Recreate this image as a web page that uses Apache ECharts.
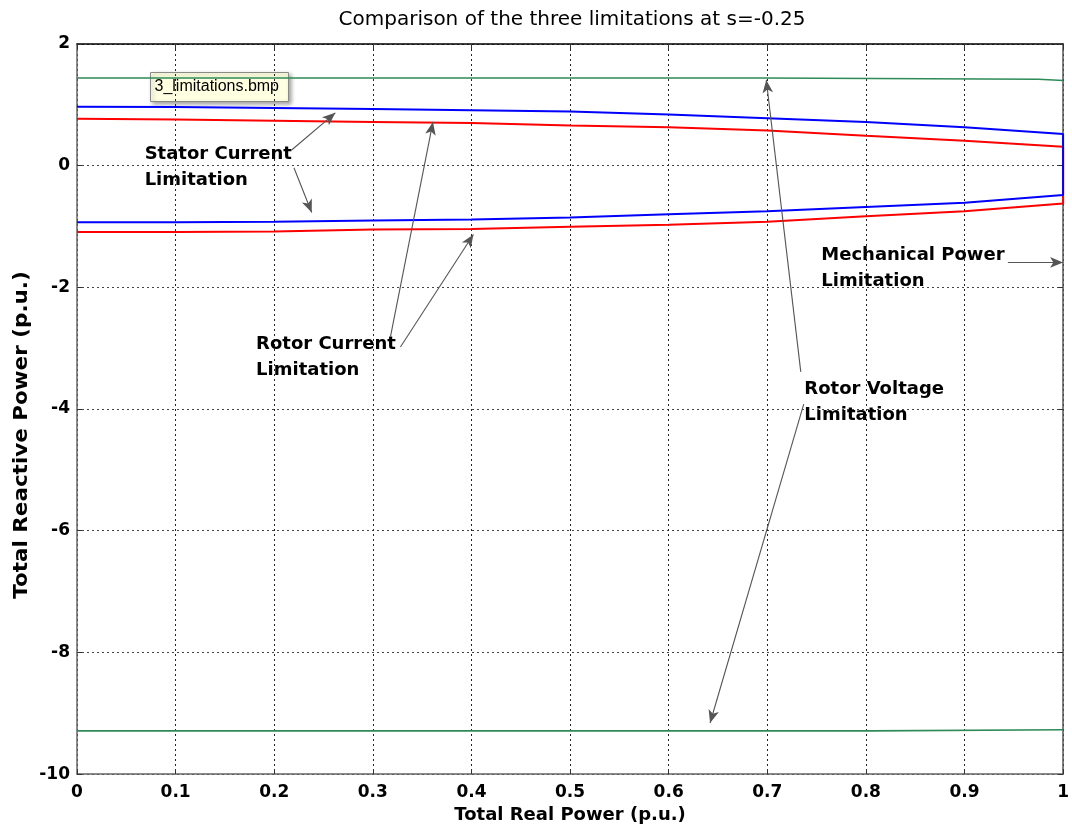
<!DOCTYPE html>
<html><head><meta charset="utf-8">
<script src="https://cdn.jsdelivr.net/npm/echarts@6/dist/echarts.min.js"></script>
<style>html,body{margin:0;padding:0;background:#fff;overflow:hidden}#c{width:1072px;height:829px}</style>
</head><body><div id="c"></div>
<script>
// ---- data ----
const P = [0, 0.1, 0.2, 0.3, 0.4, 0.5, 0.6, 0.7, 0.8, 0.9, 1.0];
const statorUpper = [0.967, 0.965, 0.95, 0.93, 0.91, 0.89, 0.84, 0.78, 0.72, 0.63, 0.52];
const statorLower = [-0.93, -0.93, -0.92, -0.90, -0.885, -0.85, -0.80, -0.75, -0.68, -0.61, -0.48];
const rotorUpper  = [0.77, 0.76, 0.74, 0.72, 0.70, 0.66, 0.63, 0.58, 0.49, 0.41, 0.31];
const rotorLower  = [-1.09, -1.09, -1.08, -1.05, -1.04, -1.005, -0.97, -0.92, -0.83, -0.75, -0.62];
const voltUpperP = [0, 0.696, 0.697, 0.975, 0.976, 1.0];
const voltUpperQ = [1.44, 1.44, 1.42, 1.42, 1.40, 1.40];
const voltLowerP = [0, 0.805, 0.806, 1.0];
const voltLowerQ = [-9.29, -9.29, -9.27, -9.27];
const xTickLabels = ['0','0.1','0.2','0.3','0.4','0.5','0.6','0.7','0.8','0.9','1'];
const yTickLabels = ['-10','-8','-6','-4','-2','0','2'];
const annoText = ['Stator Current\nLimitation', 'Rotor Current\nLimitation', 'Mechanical Power\nLimitation', 'Rotor Voltage\nLimitation'];
const annoPos  = [[0.0686, -0.025], [0.1816, -3.156], [0.7548, -1.68], [0.7376, -3.893]];
const arrowFrom = [[0.218, 0.262], [0.220, -0.033], [0.318, -2.80], [0.328, -2.98], [0.944, -1.59], [0.734, -3.39], [0.737, -3.92]];
const arrowTo   = [[0.262, 0.869], [0.238, -0.77], [0.361, 0.72], [0.402, -1.13], [1.0, -1.59], [0.699, 1.41], [0.642, -9.16]];

// ---- build ----
function closed(up, low) {
  const d = P.map((p, i) => [p, up[i]]);
  for (let i = P.length - 1; i >= 0; i--) d.push([P[i], low[i]]);
  return d;
}
const FONT = '"Liberation Sans", Arial, sans-serif';
const WIDE = '"DejaVu Sans", "Liberation Sans", sans-serif';
const chart = echarts.init(document.getElementById('c'));
chart.setOption({
  animation: false,
  backgroundColor: '#fff',
  title: {
    text: 'Comparison of the three limitations at s=-0.25',
    left: 567, top: 5, textAlign: 'center',
    textStyle: {fontFamily: WIDE, fontSize: 20, fontWeight: 'normal', color: '#000'}
  },
  grid: {left: 77, right: 4, top: 44, bottom: 53},
  xAxis: [{
    type: 'value', min: 0, max: 1, interval: 0.1,
    name: 'Total Real Power (p.u.)', nameLocation: 'middle', nameGap: 29,
    nameTextStyle: {fontFamily: WIDE, fontSize: 18, fontWeight: 'bold', color: '#000'},
    axisLine: {show: true, onZero: false, lineStyle: {color: '#666', width: 1.5}},
    axisTick: {show: true, inside: true, length: 5, lineStyle: {color: '#333'}},
    axisLabel: {margin: 10, fontFamily: WIDE, fontSize: 17, fontWeight: 'bold', color: '#000',
      formatter: v => xTickLabels[Math.round(v * 10)]},
    splitLine: {show: true, lineStyle: {color: '#222', type: [2, 3], width: 1}}
  }, {
    type: 'value', min: 0, max: 1, interval: 0.1, position: 'top',
    axisLine: {show: true, onZero: false, lineStyle: {color: '#000', width: 1.5}},
    axisTick: {show: true, inside: true, length: 5, lineStyle: {color: '#333'}},
    axisLabel: {show: false}, splitLine: {show: false}
  }],
  yAxis: [{
    type: 'value', min: -10, max: 2, interval: 2,
    axisLine: {show: true, onZero: false, lineStyle: {color: '#666', width: 1.5}},
    axisTick: {show: true, inside: true, length: 5, lineStyle: {color: '#333'}},
    axisLabel: {margin: 7, fontFamily: WIDE, fontSize: 17, fontWeight: 'bold', color: '#000',
      formatter: v => yTickLabels[Math.round((v + 10) / 2)]},
    splitLine: {show: true, lineStyle: {color: '#444', type: [2, 3], width: 1}}
  }, {
    type: 'value', min: -10, max: 2, interval: 2, position: 'right',
    axisLine: {show: true, onZero: false, lineStyle: {color: '#555', width: 1.5}},
    axisTick: {show: true, inside: true, length: 5, lineStyle: {color: '#333'}},
    axisLabel: {show: false}, splitLine: {show: false}
  }],
  series: [
    {type: 'line', name: 'Rotor Voltage (upper)', data: voltUpperP.map((p, i) => [p, voltUpperQ[i]]),
      showSymbol: false, lineStyle: {color: '#2e8b57', width: 1.6}, z: 2},
    {type: 'line', name: 'Rotor Voltage (lower)', data: voltLowerP.map((p, i) => [p, voltLowerQ[i]]),
      showSymbol: false, lineStyle: {color: '#2e8b57', width: 1.6}, z: 2},
    {type: 'line', name: 'Rotor Current', data: closed(rotorUpper, rotorLower),
      showSymbol: false, lineStyle: {color: '#ff0000', width: 2}, z: 3},
    {type: 'line', name: 'Stator Current', data: closed(statorUpper, statorLower),
      showSymbol: false, lineStyle: {color: '#0000ff', width: 2}, z: 4},
    {type: 'scatter', name: 'annotations', symbolSize: 0, z: 6, silent: true,
      itemStyle: {opacity: 1},
      data: annoPos.map((p, i) => ({value: p, label: {formatter: annoText[i]}})),
      label: {show: true, position: 'right', distance: 0, align: 'left', verticalAlign: 'middle',
        fontFamily: WIDE, fontSize: 18, fontWeight: 'bold', color: '#000', lineHeight: 26, opacity: 1},
      markLine: {
        silent: true, symbol: ['none', 'arrow'], symbolSize: [8, 13],
        label: {show: false},
        lineStyle: {color: '#555', width: 1.1, type: 'solid', opacity: 1},
        emphasis: {disabled: true},
        data: arrowFrom.map((f, i) => [{coord: f}, {coord: arrowTo[i]}])
      }
    }
  ],
  graphic: [{
    type: 'text', x: 22, y: 435, rotation: Math.PI / 2, scaleX: 1.13, z: 100,
    style: {text: 'Total Reactive Power (p.u.)', font: 'bold 19px "DejaVu Sans", sans-serif', fill: '#000', align: 'center', verticalAlign: 'middle'}
  }, {
    type: 'group', left: 150, top: 72, z: 100,
    children: [
      {type: 'rect', shape: {x: 0, y: 0, width: 138, height: 29},
        style: {fill: '#ffffe1', stroke: '#8a8a8a', lineWidth: 1, shadowBlur: 4, shadowOffsetX: 2, shadowOffsetY: 2, shadowColor: 'rgba(0,0,0,0.35)'}},
      {type: 'text', x: 4, y: 6, style: {text: '3_limitations.bmp', font: '16px "Liberation Sans", Arial, sans-serif', fill: '#000'}}
    ]
  }]
});
</script></body></html>
